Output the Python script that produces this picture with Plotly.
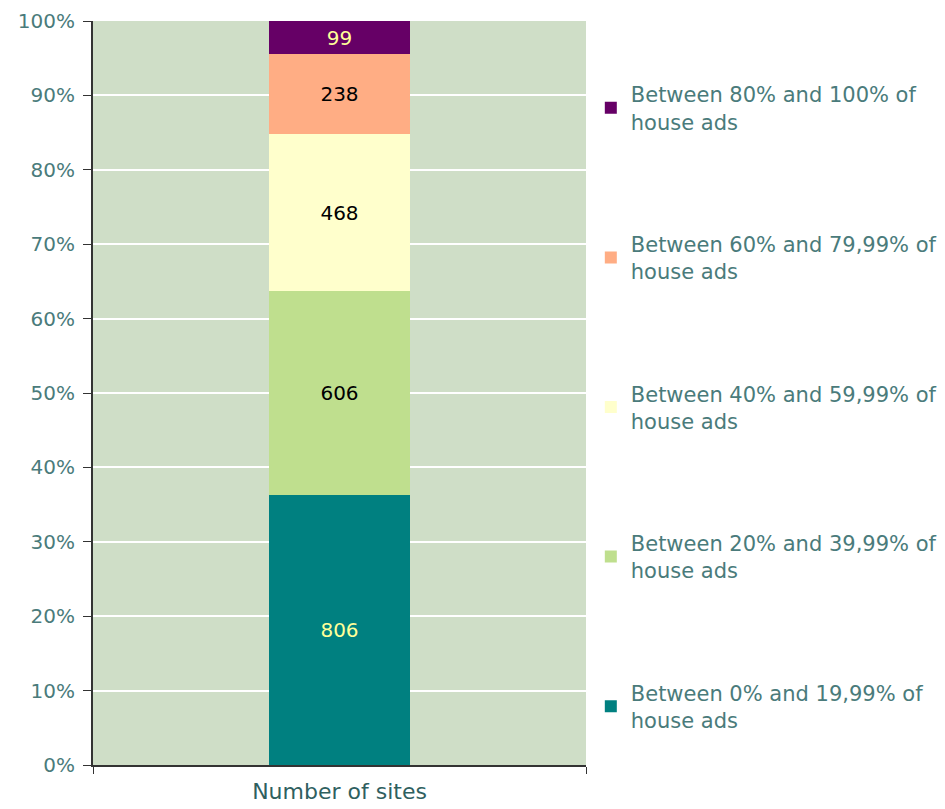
import plotly.graph_objects as go

CATEGORY = ["Number of sites"]

SERIES_NAMES = [
    "Between 0% and 19,99% of<br>house ads",
    "Between 20% and 39,99% of<br>house ads",
    "Between 40% and 59,99% of<br>house ads",
    "Between 60% and 79,99% of<br>house ads",
    "Between 80% and 100% of<br>house ads",
]
SITE_COUNTS = [806, 606, 468, 238, 99]

BAR_COLORS = ["#008080", "#BFDF8E", "#FFFFCC", "#FFAD84", "#660066"]
LABEL_COLORS = ["#FFFF99", "#000000", "#000000", "#000000", "#FFFF99"]
TEXT_COLOR = "#4A7B7B"
FONT = "DejaVu Sans, Verdana, sans-serif"

fig = go.Figure()

n = len(SITE_COUNTS)
for i, (name, count) in enumerate(zip(SERIES_NAMES, SITE_COUNTS)):
    fig.add_trace(go.Bar(
        x=CATEGORY,
        y=[count],
        name=name,
        legendgroup=f"g{i}",
        legendrank=n - i,
        marker=dict(color=BAR_COLORS[i], line=dict(width=0)),
        text=[str(count)],
        textposition="inside",
        insidetextanchor="middle",
        textfont=dict(color=LABEL_COLORS[i], size=20, family=FONT),
        width=0.284,
    ))

fig.update_layout(
    barmode="stack",
    barnorm="percent",
    width=937,
    height=799,
    margin=dict(l=85, r=359, t=13, b=42),
    paper_bgcolor="white",
    plot_bgcolor="#CFDEC7",
    font=dict(family=FONT, color=TEXT_COLOR, size=20),
    showlegend=True,
    legend=dict(
        xref="container",
        yref="container",
        x=0.622,
        y=0.9174,
        xanchor="left",
        yanchor="top",
        maxheight=760,
        traceorder="grouped",
        tracegroupgap=92,
        font=dict(size=21, color=TEXT_COLOR, family=FONT),
        itemwidth=30,
        bgcolor="rgba(0,0,0,0)",
    ),
    xaxis=dict(
        type="category",
        automargin=False,
        tickson="boundaries",
        ticks="outside",
        ticklen=7,
        tickcolor="#333333",
        showline=True,
        linecolor="#333333",
        linewidth=2,
        showgrid=False,
        ticklabelstandoff=6,
        tickfont=dict(size=22, color="#2F5F5F", family=FONT),
    ),
    yaxis=dict(
        range=[0, 100],
        automargin=False,
        dtick=10,
        ticksuffix="%",
        ticks="outside",
        ticklen=8,
        tickcolor="#333333",
        showline=True,
        linecolor="#333333",
        linewidth=2,
        gridcolor="white",
        gridwidth=1.5,
        zeroline=False,
        ticklabeloverflow="allow",
        ticklabelstandoff=4,
        tickfont=dict(size=20, color=TEXT_COLOR, family=FONT),
    ),
)

fig.write_html("out.html")
